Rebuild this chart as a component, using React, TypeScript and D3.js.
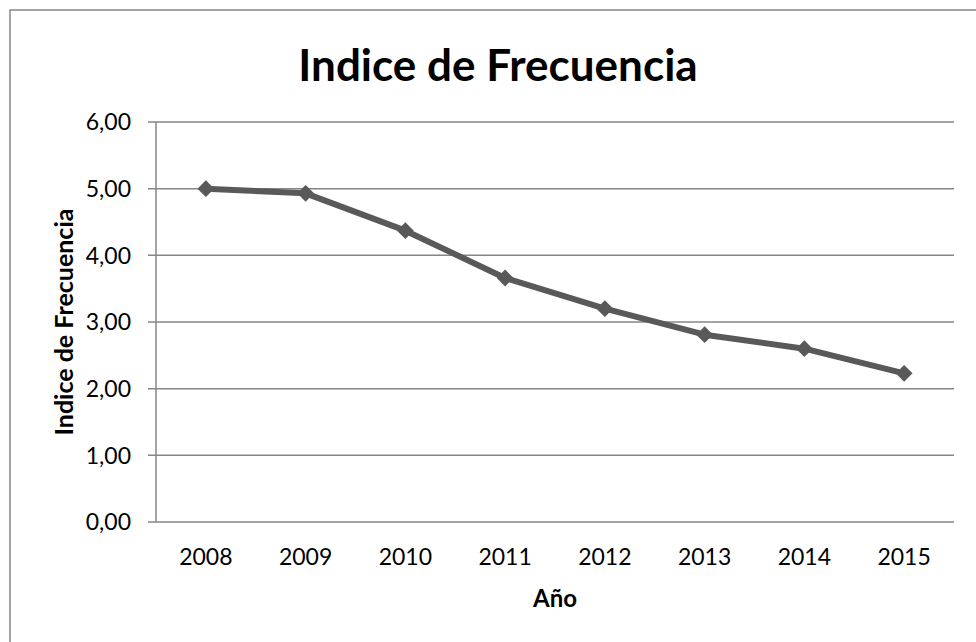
import React from 'react';
import * as d3 from 'd3';

const years = ['2008', '2009', '2010', '2011', '2012', '2013', '2014', '2015'];
const indice = [5.0, 4.93, 4.37, 3.66, 3.2, 2.81, 2.6, 2.23];
const yTicks = [0, 1, 2, 3, 4, 5, 6];

const W = 976;
const H = 642;
const margin = { top: 122, right: 22, bottom: 120, left: 156 };
const lineColor = '#595959';
const gridColor = '#868686';
const font = 'Lato, "Open Sans", sans-serif';

/* App: line chart of the frequency index per year */
export default function App() {
  const x = d3.scaleBand().domain(years).range([margin.left, W - margin.right]);
  const y = d3.scaleLinear().domain([0, 6]).range([H - margin.bottom, margin.top]);
  const cx = (d: string) => (x(d) as number) + x.bandwidth() / 2;

  const line = d3.line<number>()
    .x((d, i) => cx(years[i]))
    .y(d => y(d));

  const diamond = d3.symbol().type(d3.symbolDiamond2).size(180)();
  const fmt = (v: number) => v.toFixed(2).replace('.', ',');

  return (
    <svg width={W} height={H} style={{ position: 'absolute', left: 0, top: 0, background: '#fff' }}>
      <rect x={10} y={10} width={W + 20} height={H + 20} fill="#fff" stroke={gridColor} strokeWidth={1.5} />

      <text x={498} y={81} textAnchor="middle" fontFamily={font} fontWeight="bold" fontSize={44} fill="#000">
        Indice de Frecuencia
      </text>

      {yTicks.map(t => (
        <g key={`y-${t}`}>
          <line x1={margin.left - 8} x2={W - margin.right} y1={y(t)} y2={y(t)} stroke={gridColor} strokeWidth={1.5} />
          <text x={131} y={y(t)} dy="0.36em" textAnchor="end" fontFamily={font} fontSize={23} fill="#000">
            {fmt(t)}
          </text>
        </g>
      ))}
      <line x1={margin.left} x2={margin.left} y1={y(6)} y2={y(0)} stroke={gridColor} strokeWidth={1.5} />

      {years.map(d => (
        <text key={`x-${d}`} x={cx(d)} y={565} textAnchor="middle" fontFamily={font} fontSize={23} fill="#000">
          {d}
        </text>
      ))}

      <text x={555} y={607} textAnchor="middle" fontFamily={font} fontWeight="bold" fontSize={24} fill="#000">
        Año
      </text>
      <text transform="translate(73,322) rotate(-90)" textAnchor="middle" fontFamily={font} fontWeight="bold" fontSize={25} fill="#000">
        Indice de Frecuencia
      </text>

      <path d={line(indice) || ''} fill="none" stroke={lineColor} strokeWidth={6} strokeLinejoin="round" />
      {indice.map((v, i) => (
        <path key={`m-${i}`} d={diamond || ''} transform={`translate(${cx(years[i])},${y(v)})`} fill={lineColor} />
      ))}
    </svg>
  );
}
